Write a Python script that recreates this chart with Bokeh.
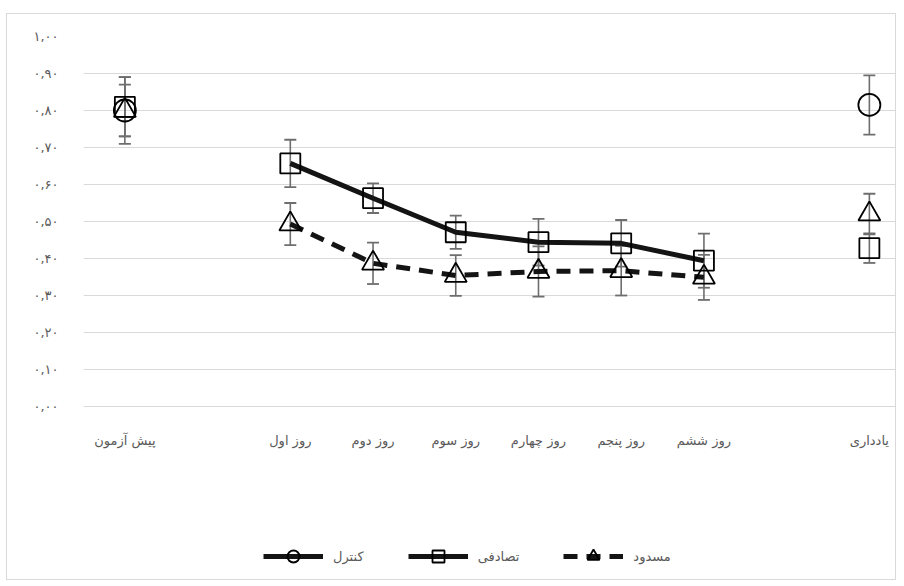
import math
from bokeh.plotting import figure
from bokeh.models import (ColumnDataSource, Range1d, FixedTicker, Whisker, TeeHead,
                          Legend, LegendItem)
from bokeh.embed import file_html
from bokeh.resources import INLINE

nan = float("nan")

categories = ["پیش آزمون", "", "روز اول", "روز دوم", "روز سوم", "روز چهارم",
              "روز پنجم", "روز ششم", "", "یادداری"]

control = [0.80, nan, nan, nan, nan, nan, nan, nan, nan, 0.815]
control_err = [0.09, nan, nan, nan, nan, nan, nan, nan, nan, 0.08]

random_ = [0.81, nan, 0.657, 0.563, 0.471, 0.444, 0.441, 0.394, nan, 0.428]
random_err = [0.08, nan, 0.064, 0.040, 0.045, 0.063, 0.063, 0.073, nan, 0.040]

blocked = [0.80, nan, 0.493, 0.387, 0.354, 0.365, 0.367, 0.349, nan, 0.520]
blocked_err = [0.07, nan, 0.057, 0.056, 0.055, 0.068, 0.067, 0.061, nan, 0.055]

series_names = ["کنترل", "تصادفی", "مسدود"]

y_ticks = [0.0, 0.1, 0.2, 0.3, 0.4, 0.5, 0.6, 0.7, 0.8, 0.9, 1.0]
y_tick_labels = ["۰,۰۰", "۰,۱۰", "۰,۲۰", "۰,۳۰", "۰,۴۰", "۰,۵۰",
                 "۰,۶۰", "۰,۷۰", "۰,۸۰", "۰,۹۰", "۱,۰۰"]

FONT = "DejaVu Sans"
TXT = "#595959"

xs = [i + 0.5 for i in range(len(categories))]

# frame extends below the value axis so that labels and legend sit inside it
p = figure(width=890, height=567, output_backend="svg", toolbar_location=None,
           x_range=Range1d(0, 9.84), y_range=Range1d(-0.473, 1.0),
           min_border_left=76, min_border_right=0, min_border_top=22,
           min_border_bottom=0)
p.margin = (13, 0, 0, 6)
p.styles = {"border": "1px solid #d9d9d9"}
p.outline_line_color = None
p.background_fill_color = "white"
p.border_fill_color = "white"

p.xgrid.grid_line_color = None
p.ygrid.grid_line_color = "#d9d9d9"
p.ygrid.grid_line_width = 1

p.yaxis.ticker = FixedTicker(ticks=y_ticks)
p.yaxis.major_label_overrides = {t: l for t, l in zip(y_ticks, y_tick_labels)}
p.yaxis.axis_line_color = None
p.yaxis.major_tick_line_color = None
p.yaxis.minor_tick_line_color = None
p.yaxis.major_tick_out = 0
p.yaxis.major_label_standoff = 25
p.yaxis.major_label_text_font = FONT
p.yaxis.major_label_text_font_size = "13px"
p.yaxis.major_label_text_color = TXT

tick_x = [x for x, c in zip(xs, categories) if c]
p.xaxis.ticker = FixedTicker(ticks=tick_x)
p.xaxis.major_label_overrides = {x: c for x, c in zip(xs, categories) if c}
p.xaxis.fixed_location = y_ticks[0]
p.xaxis.axis_line_color = None
p.xaxis.major_tick_line_color = None
p.xaxis.minor_tick_line_color = None
p.xaxis.major_tick_out = 0
p.xaxis.major_tick_in = 0
p.xaxis.major_label_standoff = 27
p.xaxis.major_label_text_font = FONT
p.xaxis.major_label_text_font_size = "13px"
p.xaxis.major_label_text_color = TXT

ERR_C = "#6e6e6e"
LINE_C = "#141414"


def add_whisker(vals, errs):
    xx, lo, hi = [], [], []
    for x, v, e in zip(xs, vals, errs):
        if not (math.isnan(v) or math.isnan(e)):
            xx.append(x)
            lo.append(v - e)
            hi.append(v + e)
    src = ColumnDataSource(dict(x=xx, lower=lo, upper=hi))
    w = Whisker(base="x", lower="lower", upper="upper", source=src,
                line_color=ERR_C, line_width=1.6,
                upper_head=TeeHead(size=12, line_color=ERR_C, line_width=1.8),
                lower_head=TeeHead(size=12, line_color=ERR_C, line_width=1.8))
    p.add_layout(w)


for vals, errs in [(control, control_err), (random_, random_err), (blocked, blocked_err)]:
    add_whisker(vals, errs)

items = []
specs = [
    (control, "circle", 22, None),
    (random_, "square", 20, None),
    (blocked, "triangle", 22, "14 9"),
]
for name, (vals, marker, size, dash) in zip(series_names, specs):
    src = ColumnDataSource(dict(x=xs, y=vals))
    if dash:
        ln = p.line("x", "y", source=src, line_color=LINE_C, line_width=5,
                    line_dash=dash)
    else:
        ln = p.line("x", "y", source=src, line_color=LINE_C, line_width=5)
    sc = p.scatter("x", "y", source=src, marker=marker, size=size,
                   fill_color=None, line_color="#000000", line_width=1.8)
    items.append(LegendItem(label=name, renderers=[ln, sc]))

legend = Legend(items=items, orientation="horizontal", location=(180, 10),
                glyph_width=60, glyph_height=30, label_standoff=10, spacing=44,
                padding=0, margin=0, border_line_color=None,
                background_fill_alpha=0,
                label_text_font=FONT, label_text_font_size="13px",
                label_text_color=TXT)
p.add_layout(legend, "center")

html = file_html(p, INLINE)
open("out.html", "w").write(html)
